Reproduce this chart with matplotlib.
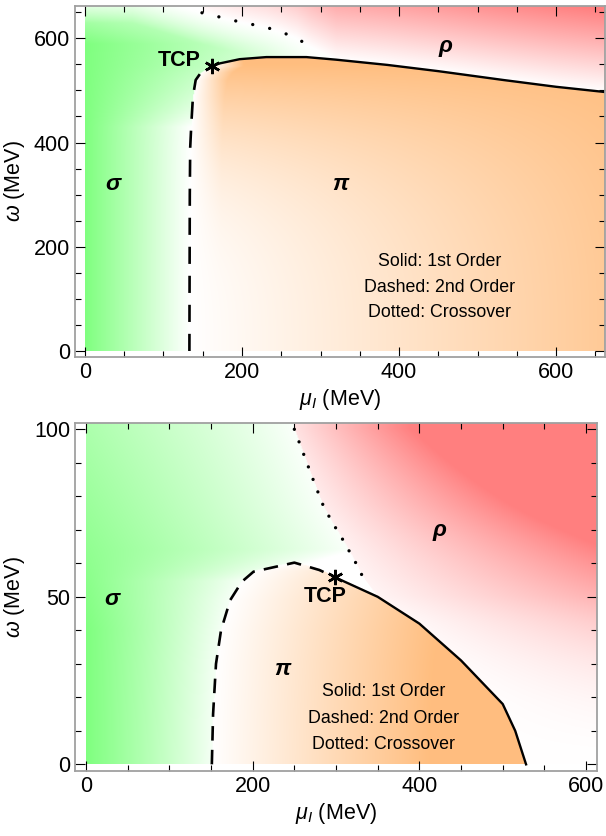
import numpy as np
import matplotlib
matplotlib.use('Agg')
from matplotlib import pyplot as plt
from matplotlib.path import Path
from matplotlib.ticker import MultipleLocator

plt.rcParams['font.family'] = ['Liberation Sans', 'DejaVu Sans']
plt.rcParams['mathtext.fontset'] = 'custom'
plt.rcParams['mathtext.rm'] = 'Liberation Sans'
plt.rcParams['mathtext.it'] = 'Liberation Sans:italic'
plt.rcParams['mathtext.bf'] = 'Liberation Sans:bold'

# ---- top panel (omega up to ~660 MeV) ----
top_dashed_x = [133, 133.5, 134, 135.5, 137.5, 141, 148, 155, 162]
top_dashed_y = [0, 300, 390, 437, 488, 520, 535, 542, 547]
top_solid_x = [162, 172, 197, 231, 282, 320, 385, 450, 533, 600, 662]
top_solid_y = [547, 552, 560, 564, 564, 559, 549, 537, 520, 507, 497]
top_dotted_x = [149, 169.5, 190, 210, 231, 251, 270, 288]
top_dotted_y = [649, 641.6, 634, 627.6, 621, 611.6, 600, 583]
top_tcp = (162, 547)

# ---- bottom panel (omega up to 100 MeV) ----
bot_dashed_x = [151, 152.5, 156, 162, 173, 187, 201, 250, 280, 299]
bot_dashed_y = [0, 15, 30, 40, 49, 54.5, 57.5, 60.2, 58, 55.8]
bot_solid_x = [299, 350, 400, 450, 500, 515, 528]
bot_solid_y = [55.8, 50, 42, 31, 18, 10, 0]
bot_dotted_x = [250, 262, 274, 285, 296, 306, 315, 324, 332]
bot_dotted_y = [100, 92, 84, 77, 72, 68, 64, 60, 56]
bot_tcp = (299, 55.8)

legend_lines = ['Solid: 1st Order', 'Dashed: 2nd Order', 'Dotted: Crossover']

GREEN = np.array([0.5, 1.0, 0.5])
ORANGE = np.array([1.0, 0.745, 0.5])
RED = np.array([1.0, 0.5, 0.5])


def compose(g, o, r):
    img = np.ones(g.shape + (3,))
    for w, c in ((g, GREEN), (o, ORANGE), (r, RED)):
        img -= w[..., None] * (1 - c)[None, None, :]
    return np.clip(img, 0, 1)


def grid(xmax, ymax):
    X, Y = np.meshgrid(np.linspace(0, xmax, 500), np.linspace(0, ymax, 500))
    return X, Y, np.column_stack([X.ravel(), Y.ravel()])


def top_background(xmax, ymax):
    X, Y, pts = grid(xmax, ymax)

    pi_path = Path(list(zip(top_dashed_x, top_dashed_y)) + list(zip(top_solid_x[1:], top_solid_y[1:]))
                   + [(800, 497), (800, -50), (133, -50)])
    rho_pts = [(149, 800)] + list(zip(top_dotted_x, top_dotted_y)) + \
              [(x, y) for x, y in zip(top_solid_x, top_solid_y) if x >= 320] + [(800, 497), (800, 800)]
    in_pi = pi_path.contains_points(pts).reshape(X.shape)
    in_rho = Path(rho_pts).contains_points(pts).reshape(X.shape)
    in_sig = ~in_pi & ~in_rho

    # sigma: fades from mu_I = 0 towards the boundary
    xd = np.interp(Y, top_dashed_y, top_dashed_x)
    L = xd + np.clip((Y - 430) / 150, 0, 1) * 170
    g = np.clip(1 - X / L, 0, 1)
    ydot = np.interp(X, [60] + top_dotted_x, [690] + top_dotted_y)
    g *= np.clip((ydot - Y) / 60, 0, 1)
    g *= 1 - 0.5 * np.clip((Y - 590) / 72, 0, 1)

    # pi: grows with mu_I and omega
    a = np.clip((X - xd) / 650, 0, 1)
    b = np.clip(Y / 550, 0, 1) ** 3 * np.clip((X - xd) / 40, 0, 1)
    o = 1 - (1 - a) * (1 - b)

    # rho: grows above the upper boundary
    bx = top_dotted_x + [x for x in top_solid_x if x >= 320]
    by = top_dotted_y + [y for x, y in zip(top_solid_x, top_solid_y) if x >= 320]
    yb = np.interp(X, bx, by)
    r = np.clip((Y - yb) / 160, 0, 1)

    return compose(g * in_sig, o * in_pi, r * in_rho)


def bottom_background(xmax, ymax):
    X, Y, pts = grid(xmax, ymax)

    pi_path = Path(list(zip(bot_dashed_x, bot_dashed_y)) + list(zip(bot_solid_x[1:], bot_solid_y[1:]))
                   + [(528, -10), (151, -10)])
    rho_pts = [(250, 120)] + list(zip(bot_dotted_x, bot_dotted_y)) + \
              [(x, y) for x, y in zip(bot_solid_x, bot_solid_y) if x >= 350] + [(528, -10), (800, -10), (800, 120)]
    in_pi = pi_path.contains_points(pts).reshape(X.shape)
    in_rho = Path(rho_pts).contains_points(pts).reshape(X.shape)
    in_sig = ~in_pi & ~in_rho

    xd = np.interp(Y, bot_dashed_y[:8], bot_dashed_x[:8])
    # smooth left edge of the non-sigma phases (dashed below, dotted above)
    ey = bot_dashed_y[:6] + [y for y in bot_dotted_y[::-1] if y >= 64]
    ex = bot_dashed_x[:6] + [x for x, y in zip(bot_dotted_x[::-1], bot_dotted_y[::-1]) if y >= 64]
    xb = np.interp(Y, ey, ex)
    g = np.clip(1 - X / (xb + 10), 0, 1) ** 0.9 * (1 - 0.35 * np.clip((Y - 40) / 60, 0, 1))

    o = np.clip((X - xd) / 260, 0, 1)

    ry = bot_solid_y[::-1][:-1] + bot_dotted_y[::-1]
    rx = bot_solid_x[::-1][:-1] + bot_dotted_x[::-1]
    xr = np.interp(Y, ry, rx)
    r = np.clip(np.clip(Y / 100, 0, 1) ** 1.5 * (X - xr + 40) / 180, 0, 1)

    return compose(g * in_sig, o * in_pi, r * in_rho)


def style_axes(ax, xmaj, ymaj, xmin, ymin):
    ax.xaxis.set_major_locator(MultipleLocator(xmaj))
    ax.yaxis.set_major_locator(MultipleLocator(ymaj))
    ax.xaxis.set_minor_locator(MultipleLocator(xmin))
    ax.yaxis.set_minor_locator(MultipleLocator(ymin))
    ax.tick_params(which='both', direction='in', top=True, right=True, width=0.8, labelsize=15.5)
    ax.tick_params(which='major', length=7)
    ax.tick_params(which='minor', length=4)
    for s in ax.spines.values():
        s.set_color('#a0a0a0')
        s.set_linewidth(1.3)
    ax.set_xlabel(r'$\mu_I$ (MeV)', fontsize=15.5, labelpad=3)
    ax.set_ylabel(r'$\omega$ (MeV)', fontsize=15.5, labelpad=5)


def greek(ax, x, y, s):
    ax.text(x, y, s, fontsize=16.5, fontweight='bold', fontstyle='italic', ha='center', va='center')


def plot_top(ax):
    xmax, ymax = 662, 662
    ax.imshow(top_background(xmax, ymax), extent=[0, xmax, 0, ymax], origin='lower',
              aspect='auto', interpolation='bilinear', zorder=0)
    ax.plot(top_dashed_x, top_dashed_y, color='black', lw=1.9, dashes=(6.5, 4.5))
    ax.plot(top_solid_x, top_solid_y, color='black', lw=1.7)
    ax.plot(top_dotted_x, top_dotted_y, color='black', lw=2.4, linestyle=(0, (0.01, 5.2)),
            dash_capstyle='round')
    ax.plot(*top_tcp, marker=(6, 2, 0), color='black', markersize=11, mew=1.8)
    ax.text(120, 558, 'TCP', fontsize=15.5, fontweight='bold', ha='center', va='center')
    greek(ax, 35, 322, 'σ')
    greek(ax, 325, 322, 'π')
    greek(ax, 459, 587, 'ρ')
    for t, yy in zip(legend_lines, [171, 122, 73.5]):
        ax.text(452, yy, t, fontsize=12.8, ha='center', va='center')
    ax.set_xlim(-13, xmax)
    ax.set_ylim(-11, ymax)
    style_axes(ax, 200, 200, 50, 50)


def plot_bottom(ax):
    xmax, ymax = 613, 101.8
    ax.imshow(bottom_background(xmax, ymax), extent=[0, xmax, 0, ymax], origin='lower',
              aspect='auto', interpolation='bilinear', zorder=0)
    ax.plot(bot_dashed_x, bot_dashed_y, color='black', lw=1.9, dashes=(5.5, 3.5))
    ax.plot(bot_solid_x, bot_solid_y, color='black', lw=1.7)
    ax.plot(bot_dotted_x, bot_dotted_y, color='black', lw=2.4, linestyle=(0, (0.01, 4.0)),
            dash_capstyle='round')
    ax.plot(*bot_tcp, marker=(6, 2, 0), color='black', markersize=11, mew=1.8)
    ax.text(287, 50, 'TCP', fontsize=15.5, fontweight='bold', ha='center', va='center')
    greek(ax, 31, 49.5, 'σ')
    greek(ax, 236, 28.7, 'π')
    greek(ax, 424, 70, 'ρ')
    for t, yy in zip(legend_lines, [21.7, 13.7, 5.8]):
        ax.text(357, yy, t, fontsize=12.8, ha='center', va='center')
    ax.set_xlim(-13, xmax)
    ax.set_ylim(-1.9, ymax)
    style_axes(ax, 200, 50, 50, 10)


fig = plt.figure(figsize=(6.06, 8.36), dpi=100)
ax1 = fig.add_axes([0.1234, 0.5733, 0.8745, 0.4195])
ax2 = fig.add_axes([0.124, 0.0781, 0.861, 0.4156])
plot_top(ax1)
plot_bottom(ax2)
fig.savefig('out.png', dpi=100)
